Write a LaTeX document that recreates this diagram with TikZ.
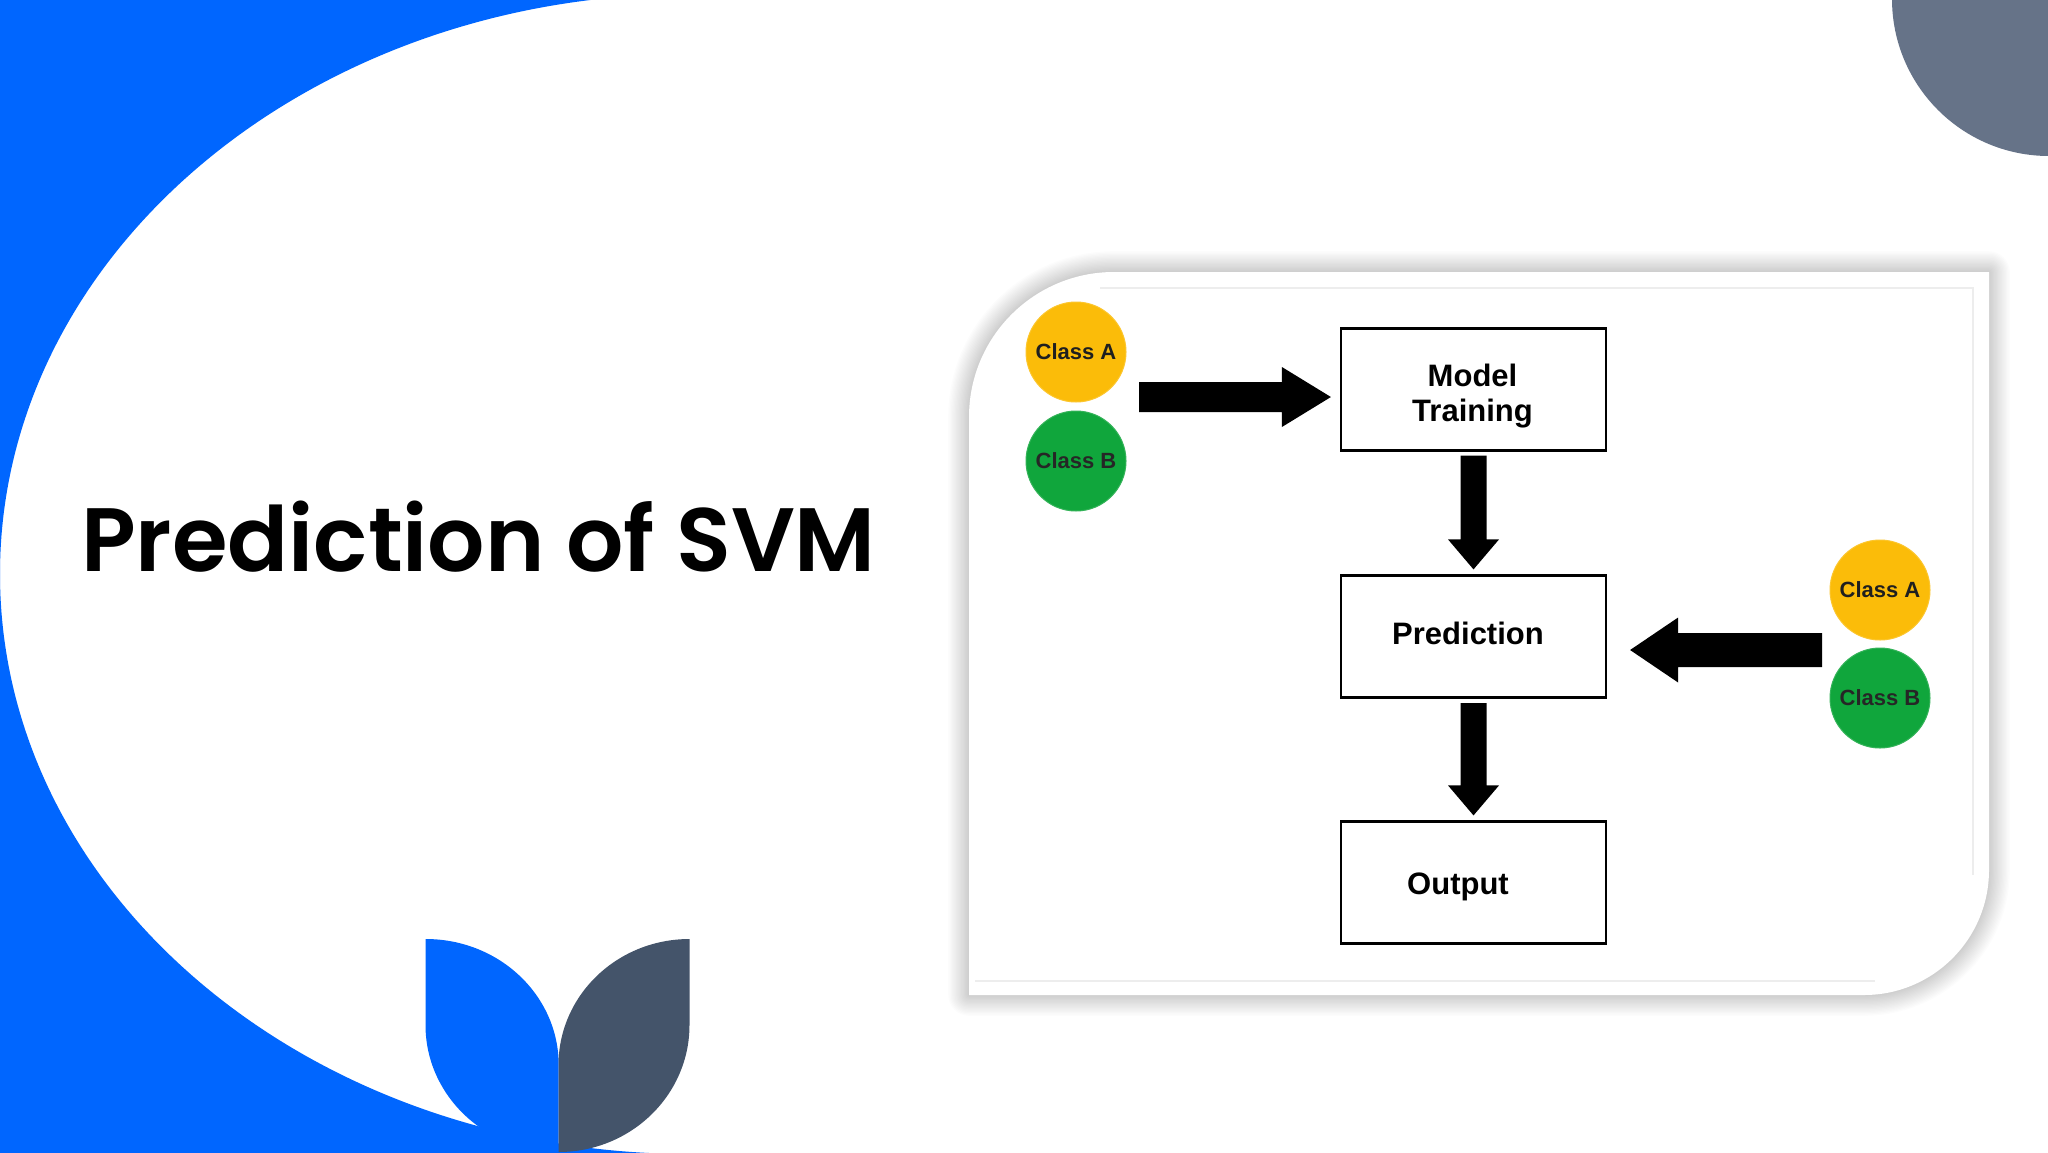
\documentclass[tikz,border=0pt]{standalone}
\usepackage{fontspec}
\setmainfont{Liberation Sans}
\newfontfamily\titlefont{Poppins SemiBold}
\usetikzlibrary{calc}
\definecolor{swblue}{HTML}{0066FF}
\definecolor{leafgray}{HTML}{44546A}
\definecolor{cornergray}{HTML}{667388}
\definecolor{clsyellow}{HTML}{FBBC09}
\definecolor{clsgreen}{HTML}{10A63C}
\newcommand\blockarr[5]{%
  \coordinate (bab) at ($(#2)!#5!(#1)$);
  \fill[black] ($(#1)!#3!90:(#2)$) -- ($(bab)!#3!90:(#2)$) -- ($(bab)!#4!90:(#2)$) -- (#2)
     -- ($(bab)!#4!-90:(#2)$) -- ($(bab)!#3!-90:(#2)$) -- ($(#1)!#3!-90:(#2)$) -- cycle;}
\newcommand\cardpath{(969,995) -- (969,417) arc[start angle=180, end angle=270, radius=145]
   -- (1989,272) -- (1989,870) arc[start angle=0, end angle=90, radius=125] -- cycle}
\begin{document}
\begin{tikzpicture}[x=1pt,y=-1pt,
  boxnode/.style={draw=black, line width=2.2pt, minimum width=265pt, minimum height=122pt, inner sep=0pt},
  boxtext/.style={font=\bfseries\fontsize{31}{35}\selectfont, align=center, inner sep=0pt},
  classnode/.style={circle, minimum size=100pt, inner sep=0pt, line width=1pt,
     font=\bfseries\fontsize{22}{24}\selectfont},
  classA/.style={classnode, fill=clsyellow, draw=clsyellow!85!white, text=black!88},
  classB/.style={classnode, fill=clsgreen, draw=clsgreen!85!white, text=black!85},
  faint/.style={black!7, line width=1.5pt}]
\useasboundingbox (0,0) rectangle (2048,1152);
\clip (0,0) rectangle (2048,1152);
\fill[white] (0,0) rectangle (2048,1152);
% blue swoosh
\begin{scope}
  \clip (0,0) rectangle (690,1152);
  \fill[swblue,even odd rule] (-10,-20) rectangle (800,1172)
     (690,574) ellipse [x radius=690, y radius=580];
\end{scope}
% leaves
\fill[swblue] (425.7,939) arc[start angle=270, end angle=360, x radius=133, y radius=126]
   -- (558.5,1152) arc[start angle=90, end angle=180, x radius=133, y radius=127] -- cycle;
\fill[leafgray] (689.5,939) arc[start angle=270, end angle=180, x radius=131, y radius=126]
   -- (558.5,1152) arc[start angle=90, end angle=0, x radius=131, y radius=127] -- cycle;
% corner circle
\fill[cornergray] (2049,-1) circle[radius=157];
% title
\node[anchor=base west, inner sep=0pt, font=\titlefont\fontsize{90}{90}\selectfont] (title)
   at (81,571.6) {Prediction of SVM};
% card shadow and card
\foreach \i in {1,...,16}{
  \draw[black, opacity=0.012, line width={\i*2.6pt}, line join=round] \cardpath;
}
\fill[white] \cardpath;
\draw[faint] (1100,288) -- (1973,288) -- (1973,875);
\draw[faint] (975,981) -- (1875,981);
% nodes
\node[boxnode] (mt) at (1473.5,389.5) {};
\node[boxnode] (pr) at (1473.5,636.5) {};
\node[boxnode] (out) at (1473.5,882.5) {};
\node[boxtext] (mtt) at (1472.5,396.5) {Model\\Training};
\node[boxtext] (prt) at (1468,633) {Prediction};
\node[boxtext] (outt) at (1458,886.7) {Output};
\node[classA] (a1) at (1076,352) {Class A};
\node[classB] (b1) at (1076,461) {Class B};
\node[classA] (a2) at (1880,590) {\raisebox{-3pt}{Class A}};
\node[classB] (b2) at (1880,698) {\raisebox{-3pt}{Class B}};
% arrows
\coordinate (s1) at (1139,397);
\coordinate (t1) at ($(mt.west |- s1)+(-9,0)$);
\blockarr{s1}{t1}{15pt}{30pt}{49pt}
\coordinate (s2) at ($(mt.south)+(0,4)$);
\coordinate (t2) at ($(pr.north)+(0,-5)$);
\blockarr{s2}{t2}{13pt}{25.5pt}{30pt}
\coordinate (s3) at ($(pr.south)+(0,4.5)$);
\coordinate (t3) at ($(out.north)+(0,-5)$);
\blockarr{s3}{t3}{13pt}{25.5pt}{30pt}
\coordinate (s4) at (1822,650);
\coordinate (t4) at ($(pr.east |- s4)+(23,0)$);
\blockarr{s4}{t4}{17pt}{32.5pt}{48pt}
\end{tikzpicture}
\end{document}
